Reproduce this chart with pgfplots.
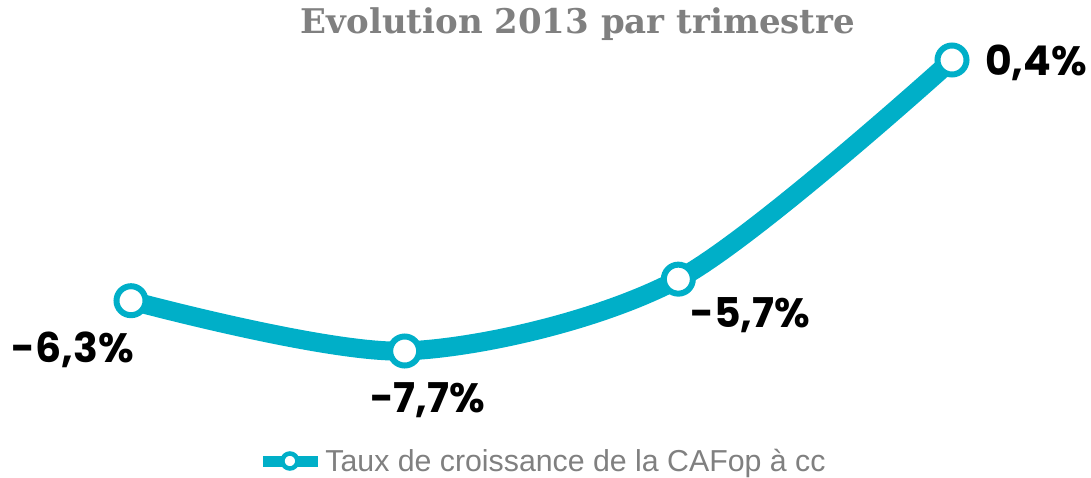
\documentclass[border=0pt]{standalone}
\usepackage{fontspec}
\setmainfont{Liberation Sans}
\newfontfamily\labfont{Poppins}[UprightFont=* Bold]
\newfontfamily\titfont{DejaVu Serif}[UprightFont=* Bold]
\usepackage{pgfplots}
\pgfplotsset{compat=1.18}
\definecolor{teal1}{RGB}{0,175,200}
\definecolor{greyt}{RGB}{128,128,128}
\begin{document}
\begin{tikzpicture}
\useasboundingbox (-131pt,-126pt) rectangle (960pt,351pt);
\begin{axis}[
  scale only axis, width=821pt, height=291pt,
  xmin=0, xmax=3, ymin=-7.7, ymax=0.4,
  axis lines=none, clip=false,
  legend style={at={(rel axis cs:0.5,0)}, anchor=center, xshift=1pt, yshift=-110pt, draw=none, fill=none,
    font=\fontsize{30.3}{33}\selectfont\color{greyt}, inner sep=0pt},
  legend cell align=left,
  legend image code/.code={
    \draw[teal1, line width=11pt] (0pt,0pt) -- (55pt,0pt);
    \draw[teal1, fill=white, line width=4.5pt] (27pt,0pt) circle (7.5pt);
  },
]
\addplot[teal1, line width=19pt, smooth, mark=*, mark size=14.5pt,
  mark options={fill=white, draw=teal1, line width=6pt}]
  coordinates {(0,-6.3) (1,-7.7) (2,-5.7) (3,0.4)};
\addlegendentry{Taux de croissance de la CAFop à cc}
\node[font=\labfont\fontsize{41}{44}\selectfont, xshift=-58pt, yshift=-49pt] at (axis cs:0,-6.3) {-6,3\%};
\node[font=\labfont\fontsize{41}{44}\selectfont, xshift=23pt, yshift=-49pt] at (axis cs:1,-7.7) {-7,7\%};
\node[font=\labfont\fontsize{41}{44}\selectfont, xshift=72pt, yshift=-36pt] at (axis cs:2,-5.7) {-5,7\%};
\node[font=\labfont\fontsize{41}{44}\selectfont, xshift=84pt, yshift=-3pt] at (axis cs:3,0.4) {0,4\%};
\end{axis}
\node[font=\titfont\fontsize{34}{40}\selectfont, text=greyt] at (447pt,327pt) {Evolution 2013 par trimestre};
\end{tikzpicture}
\end{document}
